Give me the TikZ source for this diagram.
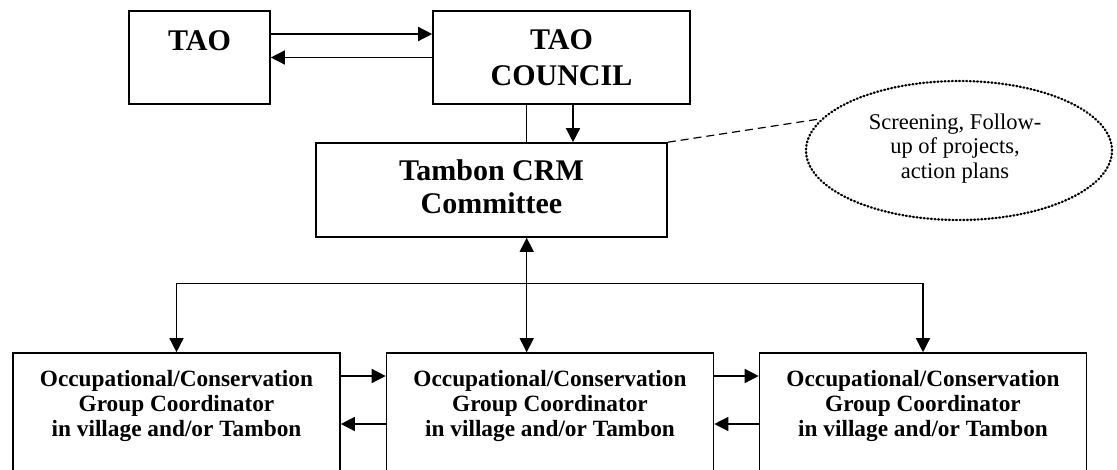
\documentclass[tikz,border=0pt]{standalone}
\usepackage{fontspec}
\setmainfont{Liberation Serif}
\usetikzlibrary{arrows.meta,shapes.geometric}

\tikzset{
  box/.style={draw,line width=1.6pt,inner sep=0pt},
  link/.style={line width=1.4pt},
  arr/.style={link,-{Triangle[length=14pt,width=14pt]}},
  twoway/.style={link,{Triangle[length=14pt,width=14pt]}-{Triangle[length=14pt,width=14pt]}},
  bigtxt/.style={inner sep=0pt,align=center,font=\bfseries\fontsize{30}{36}\selectfont},
  grptxt/.style={inner sep=0pt,align=center,font=\bfseries\fontsize{23.3}{25}\selectfont},
  notetxt/.style={inner sep=0pt,align=center,font=\fontsize{22.5}{24.5}\selectfont},
  cloud/.style={draw,ellipse,inner sep=0pt,line width=2.3pt,line cap=round,dash pattern=on 0.9pt off 2.7pt},
  hint/.style={line width=1.2pt,dash pattern=on 8pt off 5pt}
}

\begin{document}
\begin{tikzpicture}[x=1pt,y=-1pt]
\useasboundingbox (0,0) rectangle (1117,469);
\clip (0,0) rectangle (1117,469);

\node[box,minimum width=141pt,minimum height=93pt] (tao) at (199.5,57.5) {};
\node[bigtxt,anchor=base] (taotext) at (199.5,50) {TAO};
\node[box,minimum width=257pt,minimum height=93pt] (council) at (561.5,57.5) {};
\node[bigtxt] (counciltext) at (561.5,58) {TAO\\COUNCIL};
\node[box,minimum width=351pt,minimum height=94pt] (crm) at (491.5,190) {};
\node[bigtxt,font=\bfseries\fontsize{30}{33}\selectfont] (crmtext) at (491.5,186.5) {Tambon CRM\\Committee};

\node[cloud,minimum width=306pt,minimum height=139pt] (note) at (959,150.5) {};
\node[notetxt] (notetext) at (955,148.5) {Screening, Follow-\\up of projects,\\action plans};

\foreach \name/\xc in {grpA/176.5,grpB/550,grpC/923}{
  \node[box,minimum width=327pt,minimum height=167pt] (\name) at (\xc,436.5) {};
  \node[grptxt] (\name-text) at (\xc,406.2) {Occupational/Conservation\\Group Coordinator\\in village and/or Tambon};
}

\coordinate (spine) at (526.7,0);
\coordinate (drop) at (573,0);
\coordinate (bus) at (0,283.3);

% links
\draw[arr] ([yshift=23.5pt]tao.east) -- ([yshift=23.5pt]council.west);
\draw[arr] (council.west) -- (tao.east);
\draw[link] (council.south -| spine) -- (crm.north -| spine);
\draw[arr] (council.south -| drop) -- (crm.north -| drop);
\draw[hint] (crm.north east) -- (note.167);
\draw[twoway] (crm.south -| spine) -- (grpB.north -| spine);
\draw[arr] (bus -| spine) -| (grpA.north);
\draw[arr] (bus -| spine) -| (grpC.north);
\draw[arr] ([yshift=60.5pt]grpA.east) -- ([yshift=60.5pt]grpB.west);
\draw[arr] ([yshift=12.5pt]grpB.west) -- ([yshift=12.5pt]grpA.east);
\draw[arr] ([yshift=60.5pt]grpB.east) -- ([yshift=60.5pt]grpC.west);
\draw[arr] ([yshift=12.5pt]grpC.west) -- ([yshift=12.5pt]grpB.east);
\end{tikzpicture}
\end{document}
